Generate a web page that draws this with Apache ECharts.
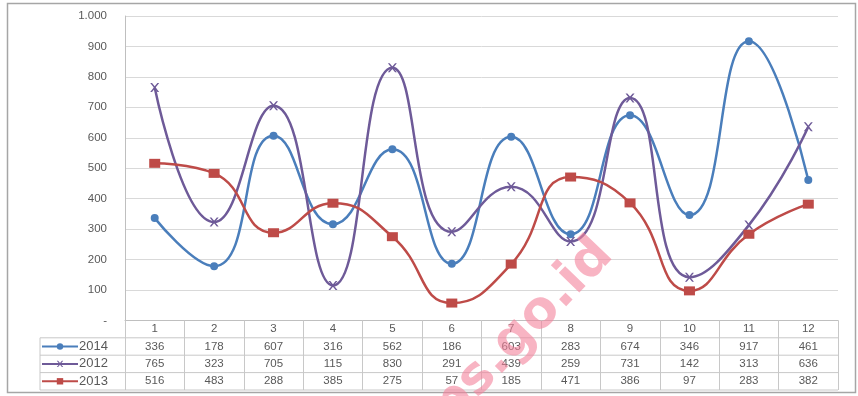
<!DOCTYPE html>
<html>
<head>
<meta charset="utf-8">
<script src="https://cdn.jsdelivr.net/npm/echarts@6/dist/echarts.min.js"></script>
<style>html,body{margin:0;padding:0;background:#fff}#c{width:858px;height:396px}</style>
</head>
<body>
<div id="c"></div>
<script>
var categories = ['1','2','3','4','5','6','7','8','9','10','11','12'];
var seriesNames = ['2014','2012','2013'];
var s2014 = [336,178,607,316,562,186,603,283,674,346,917,461];
var s2012 = [765,323,705,115,830,291,439,259,731,142,313,636];
var s2013 = [516,483,288,385,275,57,185,471,386,97,283,382];
var yTicks = [0,100,200,300,400,500,600,700,800,900,1000];
var watermark = 'bps.go.id';

var colors = ['#4A7EBB','#6E5A98','#BE4B48'];
var GL = 125, GR = 838, GT = 16, GB = 320.4, ROW = 17.4;
var chart = echarts.init(document.getElementById('c'));
var font = 'Liberation Sans';
var xSymbol = 'path://M0,0L2,0L5,3.6L8,0L10,0L6,5L10,10L8,10L5,6.4L2,10L0,10L4,5Z';

function yLabel(v){ if (v === 0) return '-'; if (v >= 1000) return '1.000'; return String(v); }

var rowYs = [GB + ROW, GB + 2*ROW, GB + 3*ROW, GB + 4*ROW];
var graphics = [
  {type:'rect', shape:{x:7.5,y:3.5,width:848,height:389}, style:{fill:'none',stroke:'#a6a6a6',lineWidth:1.5}, silent:true, z:0}
];
rowYs.forEach(function(y){
  graphics.push({type:'line', shape:{x1:40,y1:y,x2:GR,y2:y}, style:{stroke:'#c8c8c8',lineWidth:1}, silent:true});
});
graphics.push({type:'line', shape:{x1:40,y1:GB+ROW,x2:40,y2:GB+4*ROW}, style:{stroke:'#c8c8c8',lineWidth:1}, silent:true});
graphics.push({type:'text', x:510, y:345, rotation:46*Math.PI/180, z:100,
  style:{text:watermark, fill:'rgba(244,130,155,0.6)', font:'bold 52px "DejaVu Sans"', align:'center', verticalAlign:'middle'}, silent:true});

chart.setOption({
  animation:false,
  backgroundColor:'#fff',
  color: colors,
  grid:{left:GL, right:858-GR, top:GT, bottom:396-GB, containLabel:false},
  legend:{
    orient:'vertical', left:41, top:GB+ROW+1.7, padding:0, itemGap:3.4,
    itemWidth:36, itemHeight:8, data:seriesNames,
    textStyle:{fontFamily:font, fontSize:13, color:'#595959', lineHeight:14, padding:[0,0,0,-4]}
  },
  xAxis:{
    type:'category', data:categories, boundaryGap:true,
    axisLine:{show:true, lineStyle:{color:'#bfbfbf', width:1}},
    axisTick:{show:true, length:ROW*4, lineStyle:{color:'#c8c8c8'}},
    axisLabel:{
      margin:0, interval:0, fontFamily:font, fontSize:11.5, color:'#595959', lineHeight:ROW,
      formatter:function(v, i){ return [categories[i], s2014[i], s2012[i], s2013[i]].join('\n'); }
    },
    splitLine:{show:false}
  },
  yAxis:{
    type:'value', min:0, max:1000, interval:100,
    axisLine:{show:true, lineStyle:{color:'#bfbfbf'}},
    axisTick:{show:false},
    axisLabel:{margin:18, fontFamily:font, fontSize:11.5, color:'#595959', formatter:yLabel},
    splitLine:{show:true, lineStyle:{color:'#d9d9d9', width:1}}
  },
  series:[
    {name:seriesNames[0], type:'line', data:s2014, smooth:0.5, symbol:'circle', symbolSize:8,
     lineStyle:{width:2.5, color:colors[0]}, itemStyle:{color:colors[0]}},
    {name:seriesNames[1], type:'line', data:s2012, smooth:0.5, symbol:xSymbol, symbolSize:9,
     lineStyle:{width:2.5, color:colors[1]}, itemStyle:{color:colors[1]}},
    {name:seriesNames[2], type:'line', data:s2013, smooth:0.5, symbol:'rect', symbolSize:[11,9],
     lineStyle:{width:2.5, color:colors[2]}, itemStyle:{color:colors[2]}}
  ],
  graphic: graphics
});
</script>
</body>
</html>
